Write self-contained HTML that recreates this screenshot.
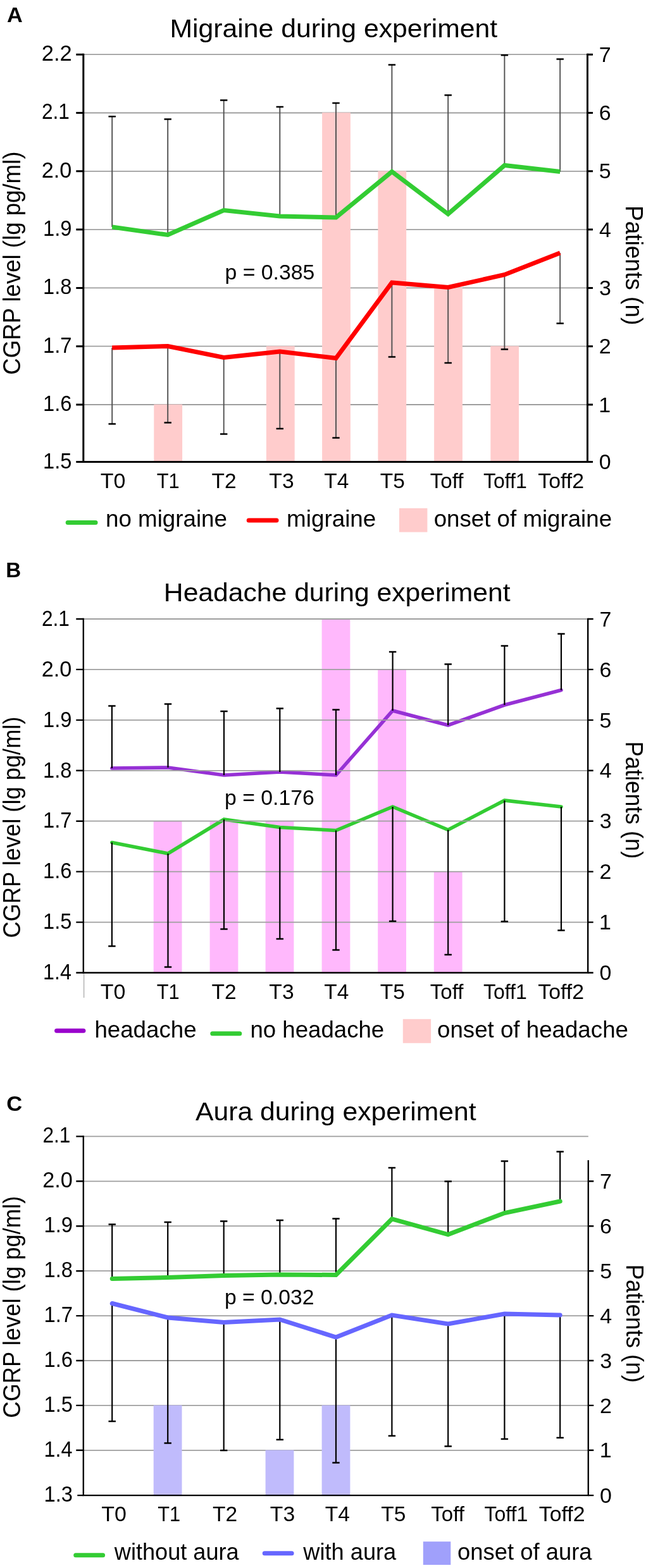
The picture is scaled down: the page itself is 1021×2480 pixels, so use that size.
<!DOCTYPE html>
<html><head><meta charset="utf-8"><title>Figure</title>
<style>html,body{margin:0;padding:0;background:#fff}svg{display:block}text{font-family:"Liberation Sans",sans-serif;fill:#000}</style>
</head><body>
<svg width="1021" height="2480" viewBox="0 0 1021 2480">
<rect width="1021" height="2480" fill="#fff"/>
<path d="M131.8 86.2H928.5M131.8 178.5H928.5M131.8 270.8H928.5M131.8 363.1H928.5M131.8 455.4H928.5M131.8 547.7H928.5M131.8 640.0H928.5" stroke="#9e9e9e" stroke-width="1.8" fill="none"/>
<rect x="243.3" y="639.7" width="44.8" height="91.9" fill="#ffcccc"/>
<rect x="420.9" y="547.4" width="44.8" height="184.2" fill="#ffcccc"/>
<rect x="509.1" y="178.2" width="44.8" height="553.4" fill="#ffcccc"/>
<rect x="597.4" y="270.5" width="44.8" height="461.1" fill="#ffcccc"/>
<rect x="686.1" y="455.1" width="44.8" height="276.5" fill="#ffcccc"/>
<rect x="775.3" y="547.4" width="44.8" height="184.2" fill="#ffcccc"/>
<path d="M177.2 184.2V359M265.2 188.5V371.5M353.7 158.5V332.5M442.3 169V342M531 163V344M619.4 102.5V271.5M708.2 150.5V338.5M797.4 87.2V261.5M885.2 93.5V271.5M177.2 550V670.5M265.2 547.5V668.5M353.7 565.5V686.5M442.3 556V678M531 566.5V692.5M619.4 447V564.5M708.2 454.5V574M797.4 434.5V552.5M885.2 400V511.5" stroke="#505050" stroke-width="1.9" fill="none"/>
<path d="M171.5 184.2H182.9M259.5 188.5H270.9M348.0 158.5H359.4M436.6 169H448.0M525.3 163H536.7M613.7 102.5H625.1M702.5 150.5H713.9M791.7 87.2H803.1M879.5 93.5H890.9M171.5 670.5H182.9M259.5 668.5H270.9M348.0 686.5H359.4M436.6 678H448.0M525.3 692.5H536.7M613.7 564.5H625.1M702.5 574H713.9M791.7 552.5H803.1M879.5 511.5H890.9" stroke="#000" stroke-width="2.4" fill="none"/>
<path d="M131.8 84.7V730.6M130.3 730.6H930.0M928.5 730.6V84.7" stroke="#000" stroke-width="3" fill="none"/>
<text x="65.75" y="96.1" font-size="34.5" text-anchor="start" textLength="47.94" lengthAdjust="spacingAndGlyphs">2.2</text>
<text x="65.9" y="188.4" font-size="34.5" text-anchor="start" textLength="43.95" lengthAdjust="spacingAndGlyphs">2.1</text>
<text x="65.77" y="280.7" font-size="34.5" text-anchor="start" textLength="47.53" lengthAdjust="spacingAndGlyphs">2.0</text>
<text x="68.01" y="373.0" font-size="34.5" text-anchor="start" textLength="45.47" lengthAdjust="spacingAndGlyphs">1.9</text>
<text x="68.02" y="465.3" font-size="34.5" text-anchor="start" textLength="45.34" lengthAdjust="spacingAndGlyphs">1.8</text>
<text x="68.0" y="557.6" font-size="34.5" text-anchor="start" textLength="45.6" lengthAdjust="spacingAndGlyphs">1.7</text>
<text x="68.01" y="649.9" font-size="34.5" text-anchor="start" textLength="45.47" lengthAdjust="spacingAndGlyphs">1.6</text>
<text x="68.02" y="740.5" font-size="34.5" text-anchor="start" textLength="45.34" lengthAdjust="spacingAndGlyphs">1.5</text>
<text x="946.79" y="742.2" font-size="34" text-anchor="start" textLength="18.92" lengthAdjust="spacingAndGlyphs">0</text>
<text x="946.36" y="651.6" font-size="34" text-anchor="start" textLength="18.92" lengthAdjust="spacingAndGlyphs">1</text>
<text x="946.79" y="559.3" font-size="34" text-anchor="start" textLength="18.92" lengthAdjust="spacingAndGlyphs">2</text>
<text x="946.98" y="467.0" font-size="34" text-anchor="start" textLength="18.92" lengthAdjust="spacingAndGlyphs">3</text>
<text x="946.98" y="374.7" font-size="34" text-anchor="start" textLength="18.92" lengthAdjust="spacingAndGlyphs">4</text>
<text x="946.86" y="282.4" font-size="34" text-anchor="start" textLength="18.92" lengthAdjust="spacingAndGlyphs">5</text>
<text x="946.73" y="190.1" font-size="34" text-anchor="start" textLength="18.92" lengthAdjust="spacingAndGlyphs">6</text>
<text x="946.79" y="97.8" font-size="34" text-anchor="start" textLength="18.92" lengthAdjust="spacingAndGlyphs">7</text>
<path d="M120.30000000000001 86.2H131.8M120.30000000000001 178.5H131.8M120.30000000000001 270.8H131.8M120.30000000000001 363.1H131.8M120.30000000000001 455.4H131.8M120.30000000000001 547.7H131.8M120.30000000000001 640.0H131.8M120.30000000000001 730.6H131.8M928.5 730.6H937.0M928.5 640.0H937.0M928.5 547.7H937.0M928.5 455.4H937.0M928.5 363.1H937.0M928.5 270.8H937.0M928.5 178.5H937.0M928.5 86.2H937.0" stroke="#000" stroke-width="3" fill="none"/>
<text x="158.85" y="771.6" font-size="34" text-anchor="start" textLength="39.63" lengthAdjust="spacingAndGlyphs">T0</text>
<text x="247.82" y="771.6" font-size="34" text-anchor="start" textLength="35.88" lengthAdjust="spacingAndGlyphs">T1</text>
<text x="334.46" y="771.6" font-size="34" text-anchor="start" textLength="39.07" lengthAdjust="spacingAndGlyphs">T2</text>
<text x="425.36" y="771.6" font-size="34" text-anchor="start" textLength="39.26" lengthAdjust="spacingAndGlyphs">T3</text>
<text x="512.26" y="771.6" font-size="34" text-anchor="start" textLength="39.06" lengthAdjust="spacingAndGlyphs">T4</text>
<text x="600.86" y="771.6" font-size="34" text-anchor="start" textLength="39.13" lengthAdjust="spacingAndGlyphs">T5</text>
<text x="679.67" y="771.6" font-size="34" text-anchor="start" textLength="52.78" lengthAdjust="spacingAndGlyphs">Toff</text>
<text x="763.89" y="771.6" font-size="34" text-anchor="start" textLength="68.97" lengthAdjust="spacingAndGlyphs">Toff1</text>
<text x="850.25" y="771.6" font-size="34" text-anchor="start" textLength="72.9" lengthAdjust="spacingAndGlyphs">Toff2</text>
<polyline points="177.2,359 265.2,371.5 353.7,332.5 442.3,342 531,344 619.4,271.5 708.2,338.5 797.4,261.5 885.2,271.5" fill="none" stroke="#33cc33" stroke-width="7" stroke-linejoin="miter" stroke-linecap="butt"/>
<polyline points="177.2,550 265.2,547.5 353.7,565.5 442.3,556 531,566.5 619.4,447 708.2,454.5 797.4,434.5 885.2,400" fill="none" stroke="#ff0000" stroke-width="7" stroke-linejoin="miter" stroke-linecap="butt"/>
<text x="268.53" y="58.6" font-size="40" text-anchor="start" textLength="517.73" lengthAdjust="spacingAndGlyphs">Migraine during experiment</text>
<text x="11.1" y="35.4" font-size="33.5" text-anchor="start" font-weight="bold" textLength="24.76" lengthAdjust="spacingAndGlyphs">A</text>
<text x="355.49" y="442.3" font-size="34" text-anchor="start" textLength="141.91" lengthAdjust="spacingAndGlyphs">p = 0.385</text>
<text transform="translate(32,591) rotate(-90)" x="-1.81" y="0" font-size="38" textLength="353.12" lengthAdjust="spacingAndGlyphs">CGRP level (lg pg/ml)</text>
<text transform="translate(989.2,328) rotate(90)" x="-3.05" y="0" font-size="38" textLength="189.39" lengthAdjust="spacingAndGlyphs">Patients (n)</text>
<line x1="107.2" x2="151.0" y1="826.5" y2="826.5" stroke="#33cc33" stroke-width="7" stroke-linecap="round"/>
<text x="167.02" y="833.2" font-size="37" text-anchor="start" textLength="191.95" lengthAdjust="spacingAndGlyphs">no migraine</text>
<line x1="393.2" x2="437.0" y1="823" y2="823" stroke="#ff0000" stroke-width="7" stroke-linecap="round"/>
<text x="453.11" y="833.2" font-size="37" text-anchor="start" textLength="141.16" lengthAdjust="spacingAndGlyphs">migraine</text>
<rect x="631" y="803.8" width="44.4" height="37.8" fill="#ffcccc"/>
<text x="685.71" y="833.2" font-size="37" text-anchor="start" textLength="281.35" lengthAdjust="spacingAndGlyphs">onset of migraine</text>
<rect x="242.7" y="1298.4" width="44.8" height="241.1" fill="#ffb8fc"/>
<rect x="331.6" y="1298.4" width="44.8" height="241.1" fill="#ffb8fc"/>
<rect x="419.6" y="1298.4" width="44.8" height="241.1" fill="#ffb8fc"/>
<rect x="508.6" y="978.7" width="44.8" height="560.8" fill="#ffb8fc"/>
<rect x="597.2" y="1058.6" width="44.8" height="480.9" fill="#ffb8fc"/>
<rect x="685.8" y="1378.3" width="44.8" height="161.2" fill="#ffb8fc"/>
<polyline points="176.9,1215 265.5,1214 354,1226 442.3,1221 531,1226 620.6,1124 708.2,1147 797.4,1115 887,1091.5" fill="none" stroke="#9631d5" stroke-width="5.6" stroke-linejoin="miter" stroke-linecap="round"/>
<polyline points="176.9,1332.5 265.5,1350 354,1296 442.3,1308.5 531,1313.5 620.6,1276 708.2,1312.5 797.4,1266 887,1276" fill="none" stroke="#33cc33" stroke-width="5.6" stroke-linejoin="miter" stroke-linecap="round"/>
<path d="M131.8 979.0H929.2M131.8 1058.9H929.2M131.8 1138.9H929.2M131.8 1218.8H929.2M131.8 1298.7H929.2M131.8 1378.6H929.2M131.8 1458.6H929.2" stroke="#9e9e9e" stroke-width="1.8" fill="none"/>
<path d="M176.9 1116.5V1215M265.5 1113.5V1214M354 1125V1226M442.3 1120.5V1221M531 1122.5V1226M620.6 1031V1124M708.2 1050.5V1147M797.4 1021.5V1115M887 1002.5V1091.5M176.9 1332.5V1496.5M265.5 1350V1529.5M354 1296V1469.5M442.3 1308.5V1485M531 1313.5V1502.5M620.6 1276V1457M708.2 1312.5V1510M797.4 1266V1457.5M887 1276V1471.5" stroke="#000" stroke-width="2.2" fill="none"/>
<path d="M171.2 1116.5H182.6M259.8 1113.5H271.2M348.3 1125H359.7M436.6 1120.5H448.0M525.3 1122.5H536.7M614.9 1031H626.3M702.5 1050.5H713.9M791.7 1021.5H803.1M881.3 1002.5H892.7M171.2 1496.5H182.6M259.8 1529.5H271.2M348.3 1469.5H359.7M436.6 1485H448.0M525.3 1502.5H536.7M614.9 1457H626.3M702.5 1510H713.9M791.7 1457.5H803.1M881.3 1471.5H892.7" stroke="#000" stroke-width="2.4" fill="none"/>
<line x1="132.60000000000002" x2="132.60000000000002" y1="1538.5" y2="1578" stroke="#aaa" stroke-width="1.3"/>
<path d="M131.8 977.8V1538.5M130.60000000000002 1538.5H930.4000000000001M929.2 1538.5V977.8" stroke="#000" stroke-width="2.4" fill="none"/>
<text x="65.9" y="989.7" font-size="34.5" text-anchor="start" textLength="43.95" lengthAdjust="spacingAndGlyphs">2.1</text>
<text x="65.77" y="1069.6" font-size="34.5" text-anchor="start" textLength="47.53" lengthAdjust="spacingAndGlyphs">2.0</text>
<text x="68.01" y="1149.6" font-size="34.5" text-anchor="start" textLength="45.47" lengthAdjust="spacingAndGlyphs">1.9</text>
<text x="68.02" y="1229.5" font-size="34.5" text-anchor="start" textLength="45.34" lengthAdjust="spacingAndGlyphs">1.8</text>
<text x="68.0" y="1309.4" font-size="34.5" text-anchor="start" textLength="45.6" lengthAdjust="spacingAndGlyphs">1.7</text>
<text x="68.01" y="1389.3" font-size="34.5" text-anchor="start" textLength="45.47" lengthAdjust="spacingAndGlyphs">1.6</text>
<text x="68.02" y="1469.3" font-size="34.5" text-anchor="start" textLength="45.34" lengthAdjust="spacingAndGlyphs">1.5</text>
<text x="68.05" y="1549.2" font-size="34.5" text-anchor="start" textLength="44.83" lengthAdjust="spacingAndGlyphs">1.4</text>
<text x="947.49" y="1550.1" font-size="34" text-anchor="start" textLength="18.92" lengthAdjust="spacingAndGlyphs">0</text>
<text x="947.06" y="1470.2" font-size="34" text-anchor="start" textLength="18.92" lengthAdjust="spacingAndGlyphs">1</text>
<text x="947.49" y="1390.2" font-size="34" text-anchor="start" textLength="18.92" lengthAdjust="spacingAndGlyphs">2</text>
<text x="947.68" y="1310.3" font-size="34" text-anchor="start" textLength="18.92" lengthAdjust="spacingAndGlyphs">3</text>
<text x="947.68" y="1230.4" font-size="34" text-anchor="start" textLength="18.92" lengthAdjust="spacingAndGlyphs">4</text>
<text x="947.56" y="1150.5" font-size="34" text-anchor="start" textLength="18.92" lengthAdjust="spacingAndGlyphs">5</text>
<text x="947.43" y="1070.5" font-size="34" text-anchor="start" textLength="18.92" lengthAdjust="spacingAndGlyphs">6</text>
<text x="947.49" y="990.6" font-size="34" text-anchor="start" textLength="18.92" lengthAdjust="spacingAndGlyphs">7</text>
<path d="M120.30000000000001 979.0H131.8M120.30000000000001 1058.9H131.8M120.30000000000001 1138.9H131.8M120.30000000000001 1218.8H131.8M120.30000000000001 1298.7H131.8M120.30000000000001 1378.6H131.8M120.30000000000001 1458.6H131.8M120.30000000000001 1538.5H131.8M929.2 1538.5H937.7M929.2 1458.6H937.7M929.2 1378.6H937.7M929.2 1298.7H937.7M929.2 1218.8H937.7M929.2 1138.9H937.7M929.2 1058.9H937.7M929.2 979.0H937.7" stroke="#000" stroke-width="2.4" fill="none"/>
<text x="158.85" y="1579.5" font-size="34" text-anchor="start" textLength="39.63" lengthAdjust="spacingAndGlyphs">T0</text>
<text x="247.82" y="1579.5" font-size="34" text-anchor="start" textLength="35.88" lengthAdjust="spacingAndGlyphs">T1</text>
<text x="334.46" y="1579.5" font-size="34" text-anchor="start" textLength="39.07" lengthAdjust="spacingAndGlyphs">T2</text>
<text x="425.36" y="1579.5" font-size="34" text-anchor="start" textLength="39.26" lengthAdjust="spacingAndGlyphs">T3</text>
<text x="512.26" y="1579.5" font-size="34" text-anchor="start" textLength="39.06" lengthAdjust="spacingAndGlyphs">T4</text>
<text x="600.86" y="1579.5" font-size="34" text-anchor="start" textLength="39.13" lengthAdjust="spacingAndGlyphs">T5</text>
<text x="679.67" y="1579.5" font-size="34" text-anchor="start" textLength="52.78" lengthAdjust="spacingAndGlyphs">Toff</text>
<text x="763.89" y="1579.5" font-size="34" text-anchor="start" textLength="68.97" lengthAdjust="spacingAndGlyphs">Toff1</text>
<text x="850.25" y="1579.5" font-size="34" text-anchor="start" textLength="72.9" lengthAdjust="spacingAndGlyphs">Toff2</text>
<text x="258.83" y="951.1" font-size="40" text-anchor="start" textLength="547.72" lengthAdjust="spacingAndGlyphs">Headache during experiment</text>
<text x="9.27" y="913.3" font-size="33.5" text-anchor="start" font-weight="bold" textLength="23.98" lengthAdjust="spacingAndGlyphs">B</text>
<text x="354.99" y="1273.2" font-size="34" text-anchor="start" textLength="141.73" lengthAdjust="spacingAndGlyphs">p = 0.176</text>
<text transform="translate(32,1481.8) rotate(-90)" x="-1.79" y="0" font-size="38" textLength="350.09" lengthAdjust="spacingAndGlyphs">CGRP level (lg pg/ml)</text>
<text transform="translate(989.2,1175.5) rotate(90)" x="-2.99" y="0" font-size="38" textLength="185.79" lengthAdjust="spacingAndGlyphs">Patients (n)</text>
<line x1="89.6" x2="131.9" y1="1630.3" y2="1630.3" stroke="#9900cc" stroke-width="7" stroke-linecap="round"/>
<text x="149.42" y="1640.9" font-size="37" text-anchor="start" textLength="161.14" lengthAdjust="spacingAndGlyphs">headache</text>
<line x1="335.8" x2="378.8" y1="1634.7" y2="1634.7" stroke="#33cc33" stroke-width="7" stroke-linecap="round"/>
<text x="395.43" y="1640.9" font-size="37" text-anchor="start" textLength="211.74" lengthAdjust="spacingAndGlyphs">no headache</text>
<rect x="636.8" y="1611.8" width="44.3" height="38.0" fill="#ffcccc"/>
<text x="691.01" y="1640.9" font-size="37" text-anchor="start" textLength="301.95" lengthAdjust="spacingAndGlyphs">onset of headache</text>
<path d="M131.8 1797.4H929.8M131.8 1868.3H929.8M131.8 1939.2H929.8M131.8 2010.2H929.8M131.8 2081.1H929.8M131.8 2152.0H929.8M131.8 2222.9H929.8M131.8 2293.8H929.8" stroke="#9e9e9e" stroke-width="1.8" fill="none"/>
<rect x="242.7" y="2222.6" width="44.8" height="143.5" fill="#c0bbfc"/>
<rect x="419.6" y="2293.5" width="44.8" height="72.6" fill="#c0bbfc"/>
<rect x="508.6" y="2222.6" width="44.8" height="143.5" fill="#c0bbfc"/>
<path d="M177.2 1936.5V2022.5M265.2 1933V2020.5M353.7 1931.5V2017.5M442.3 1930V2016M531 1927.5V2016.5M619.4 1847V1928M708.2 1868.5V1952.5M797.4 1836.5V1918.5M885.2 1821.5V1900M177.2 2061.5V2248M265.2 2084V2282.5M353.7 2091.5V2294M442.3 2087V2277M531 2115V2313.5M619.4 2080V2271M708.2 2094V2287.5M797.4 2078V2276M885.2 2080V2274" stroke="#000" stroke-width="2.2" fill="none"/>
<path d="M171.5 1936.5H182.9M259.5 1933H270.9M348.0 1931.5H359.4M436.6 1930H448.0M525.3 1927.5H536.7M613.7 1847H625.1M702.5 1868.5H713.9M791.7 1836.5H803.1M879.5 1821.5H890.9M171.5 2248H182.9M259.5 2282.5H270.9M348.0 2294H359.4M436.6 2277H448.0M525.3 2313.5H536.7M613.7 2271H625.1M702.5 2287.5H713.9M791.7 2276H803.1M879.5 2274H890.9" stroke="#000" stroke-width="2.4" fill="none"/>
<path d="M131.8 1796.2V2365.1M130.60000000000002 2365.1H931.0M929.8 2365.1V1835" stroke="#000" stroke-width="2.4" fill="none"/>
<text x="67.4" y="1807.3" font-size="34.5" text-anchor="start" textLength="43.95" lengthAdjust="spacingAndGlyphs">2.1</text>
<text x="67.27" y="1878.2" font-size="34.5" text-anchor="start" textLength="47.53" lengthAdjust="spacingAndGlyphs">2.0</text>
<text x="69.51" y="1949.1" font-size="34.5" text-anchor="start" textLength="45.47" lengthAdjust="spacingAndGlyphs">1.9</text>
<text x="69.52" y="2020.1" font-size="34.5" text-anchor="start" textLength="45.34" lengthAdjust="spacingAndGlyphs">1.8</text>
<text x="69.5" y="2091.0" font-size="34.5" text-anchor="start" textLength="45.6" lengthAdjust="spacingAndGlyphs">1.7</text>
<text x="69.51" y="2161.9" font-size="34.5" text-anchor="start" textLength="45.47" lengthAdjust="spacingAndGlyphs">1.6</text>
<text x="69.52" y="2232.8" font-size="34.5" text-anchor="start" textLength="45.34" lengthAdjust="spacingAndGlyphs">1.5</text>
<text x="69.55" y="2303.7" font-size="34.5" text-anchor="start" textLength="44.83" lengthAdjust="spacingAndGlyphs">1.4</text>
<text x="69.51" y="2375.0" font-size="34.5" text-anchor="start" textLength="45.47" lengthAdjust="spacingAndGlyphs">1.3</text>
<text x="948.09" y="2376.7" font-size="34" text-anchor="start" textLength="18.92" lengthAdjust="spacingAndGlyphs">0</text>
<text x="947.66" y="2305.4" font-size="34" text-anchor="start" textLength="18.92" lengthAdjust="spacingAndGlyphs">1</text>
<text x="948.09" y="2234.5" font-size="34" text-anchor="start" textLength="18.92" lengthAdjust="spacingAndGlyphs">2</text>
<text x="948.28" y="2163.6" font-size="34" text-anchor="start" textLength="18.92" lengthAdjust="spacingAndGlyphs">3</text>
<text x="948.28" y="2092.7" font-size="34" text-anchor="start" textLength="18.92" lengthAdjust="spacingAndGlyphs">4</text>
<text x="948.16" y="2021.8" font-size="34" text-anchor="start" textLength="18.92" lengthAdjust="spacingAndGlyphs">5</text>
<text x="948.03" y="1950.8" font-size="34" text-anchor="start" textLength="18.92" lengthAdjust="spacingAndGlyphs">6</text>
<text x="948.09" y="1879.9" font-size="34" text-anchor="start" textLength="18.92" lengthAdjust="spacingAndGlyphs">7</text>
<path d="M120.30000000000001 1797.4H131.8M120.30000000000001 1868.3H131.8M120.30000000000001 1939.2H131.8M120.30000000000001 2010.2H131.8M120.30000000000001 2081.1H131.8M120.30000000000001 2152.0H131.8M120.30000000000001 2222.9H131.8M120.30000000000001 2293.8H131.8M122.30000000000001 2365.1H131.8M929.8 2365.1H938.3M929.8 2293.8H938.3M929.8 2222.9H938.3M929.8 2152.0H938.3M929.8 2081.1H938.3M929.8 2010.2H938.3M929.8 1939.2H938.3M929.8 1868.3H938.3" stroke="#000" stroke-width="2.4" fill="none"/>
<text x="160.35" y="2406.1" font-size="34" text-anchor="start" textLength="39.63" lengthAdjust="spacingAndGlyphs">T0</text>
<text x="249.32" y="2406.1" font-size="34" text-anchor="start" textLength="35.88" lengthAdjust="spacingAndGlyphs">T1</text>
<text x="335.96" y="2406.1" font-size="34" text-anchor="start" textLength="39.07" lengthAdjust="spacingAndGlyphs">T2</text>
<text x="426.86" y="2406.1" font-size="34" text-anchor="start" textLength="39.26" lengthAdjust="spacingAndGlyphs">T3</text>
<text x="513.76" y="2406.1" font-size="34" text-anchor="start" textLength="39.06" lengthAdjust="spacingAndGlyphs">T4</text>
<text x="602.36" y="2406.1" font-size="34" text-anchor="start" textLength="39.13" lengthAdjust="spacingAndGlyphs">T5</text>
<text x="681.17" y="2406.1" font-size="34" text-anchor="start" textLength="52.78" lengthAdjust="spacingAndGlyphs">Toff</text>
<text x="765.39" y="2406.1" font-size="34" text-anchor="start" textLength="68.97" lengthAdjust="spacingAndGlyphs">Toff1</text>
<text x="851.75" y="2406.1" font-size="34" text-anchor="start" textLength="72.9" lengthAdjust="spacingAndGlyphs">Toff2</text>
<polyline points="177.2,2022.5 265.2,2020.5 353.7,2017.5 442.3,2016 531,2016.5 619.4,1928 708.2,1952.5 797.4,1918.5 885.2,1900" fill="none" stroke="#33cc33" stroke-width="7" stroke-linejoin="miter" stroke-linecap="round"/>
<polyline points="177.2,2061.5 265.2,2084 353.7,2091.5 442.3,2087 531,2115 619.4,2080 708.2,2094 797.4,2078 885.2,2080" fill="none" stroke="#6666ff" stroke-width="7" stroke-linejoin="miter" stroke-linecap="round"/>
<text x="309.07" y="1772" font-size="40" text-anchor="start" textLength="443.49" lengthAdjust="spacingAndGlyphs">Aura during experiment</text>
<text x="10.33" y="1757.4" font-size="33.5" text-anchor="start" font-weight="bold" textLength="24.94" lengthAdjust="spacingAndGlyphs">C</text>
<text x="354.99" y="2063.2" font-size="34" text-anchor="start" textLength="141.45" lengthAdjust="spacingAndGlyphs">p = 0.032</text>
<text transform="translate(32,2241) rotate(-90)" x="-1.8" y="0" font-size="38" textLength="351.1" lengthAdjust="spacingAndGlyphs">CGRP level (lg pg/ml)</text>
<text transform="translate(990.3,2002.7) rotate(90)" x="-3.01" y="0" font-size="38" textLength="187.12" lengthAdjust="spacingAndGlyphs">Patients (n)</text>
<line x1="119.7" x2="162.6" y1="2459.7" y2="2459.7" stroke="#33cc33" stroke-width="7" stroke-linecap="round"/>
<text x="180.8" y="2467" font-size="37" text-anchor="start" textLength="196.85" lengthAdjust="spacingAndGlyphs">without aura</text>
<line x1="418.2" x2="461.1" y1="2456.7" y2="2456.7" stroke="#6666ff" stroke-width="7" stroke-linecap="round"/>
<text x="479.3" y="2467" font-size="37" text-anchor="start" textLength="146.95" lengthAdjust="spacingAndGlyphs">with aura</text>
<rect x="668.8" y="2438.2" width="43.5" height="36.8" fill="#a0a0fb"/>
<text x="723.12" y="2467" font-size="37" text-anchor="start" textLength="212.43" lengthAdjust="spacingAndGlyphs">onset of aura</text>
</svg>
</body></html>
